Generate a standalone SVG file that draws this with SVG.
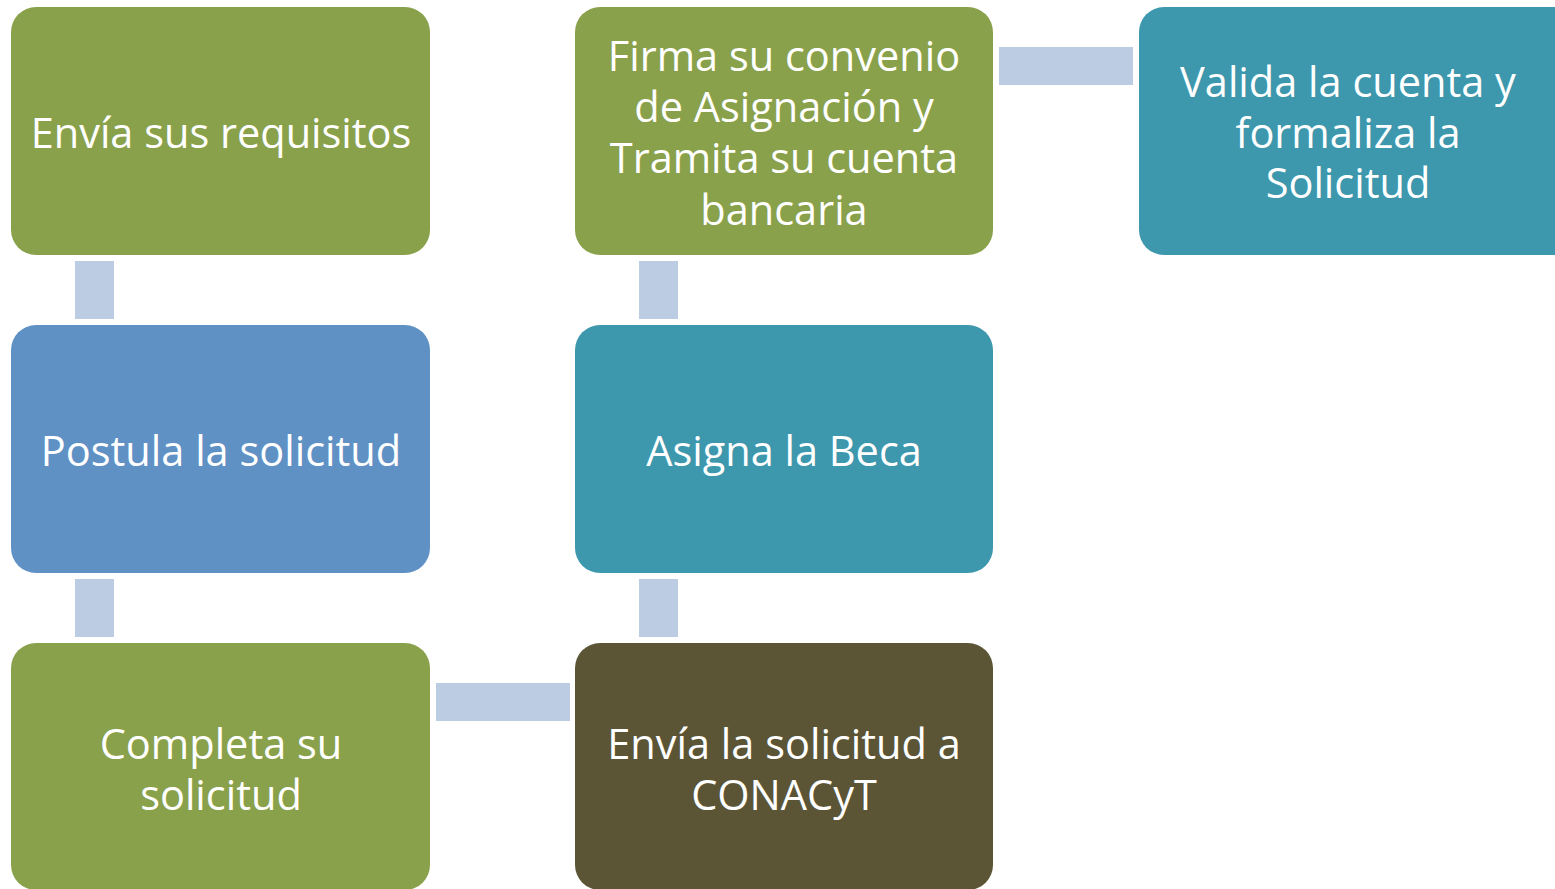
<svg xmlns="http://www.w3.org/2000/svg" width="1555" height="889" viewBox="0 0 1555 889">
<style>
.box{stroke:none}
.green{fill:#8AA14B}
.blue{fill:#5F91C5}
.teal{fill:#3D97AD}
.dark{fill:#5B5536}
.conn{fill:#BCCCE3}
text{font-family:"Open Sans","Noto Sans",sans-serif;font-size:41.5px;fill:#FFFFFF;text-anchor:middle}
</style>
<rect width="1555" height="889" fill="#FFFFFF"/>
<g id="connectors">
<rect class="conn" x="75" y="261" width="39" height="58"/>
<rect class="conn" x="75" y="579" width="39" height="58"/>
<rect class="conn" x="436" y="683" width="134" height="38"/>
<rect class="conn" x="639" y="579" width="39" height="58"/>
<rect class="conn" x="639" y="261" width="39" height="58"/>
<rect class="conn" x="999" y="47" width="134" height="38"/>
</g>
<g id="n1">
<rect class="box green" x="11" y="7" width="419" height="248" rx="25"/>
<text x="221" y="148">Envía sus requisitos</text>
</g>
<g id="n2">
<rect class="box blue" x="11" y="325" width="419" height="248" rx="25"/>
<text x="221" y="466">Postula la solicitud</text>
</g>
<g id="n3">
<rect class="box green" x="11" y="643" width="419" height="247" rx="25"/>
<text x="221" y="759">Completa su</text>
<text x="221" y="810">solicitud</text>
</g>
<g id="n4">
<rect class="box dark" x="575" y="643" width="418" height="247" rx="25"/>
<text x="784" y="759">Envía la solicitud a</text>
<text x="784" y="810">CONACyT</text>
</g>
<g id="n5">
<rect class="box teal" x="575" y="325" width="418" height="248" rx="25"/>
<text x="784" y="466">Asigna la Beca</text>
</g>
<g id="n6">
<rect class="box green" x="575" y="7" width="418" height="248" rx="25"/>
<text x="784" y="71">Firma su convenio</text>
<text x="784" y="122">de Asignación y</text>
<text x="784" y="173">Tramita su cuenta</text>
<text x="784" y="225">bancaria</text>
</g>
<g id="n7">
<rect class="box teal" x="1139" y="7" width="440" height="248" rx="25"/>
<text x="1348" y="97">Valida la cuenta y</text>
<text x="1348" y="148">formaliza la</text>
<text x="1348" y="198">Solicitud</text>
</g>
</svg>
